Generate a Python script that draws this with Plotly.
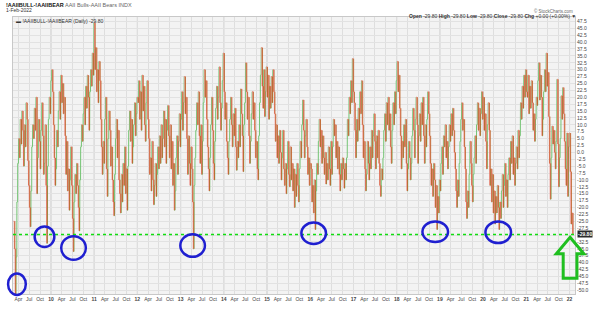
import pandas as pd
import plotly.graph_objects as go

# ---------------- data: AAII bull-bear spread, weekly ----------------
vals_2009 = [-25, -35, -51.4, -38, -18, -4, 5, -2, 12, 3, 15, 8, -5, 10, 2, 18, 12, -3, -12, -20,
             -27, -14, 2, 10, 5, 16, 8, 20, -15, -2, 12, 4, -6, 8, 18, 6, -8, -4, 10, -12,
             -33, -5, 12, 20, 14, 26]
vals_2010 = [30, 22, 10, -2, -12, -6, 8, 2, 15, 22, 12, 28, 18, 25, 14, 20, 6, -8, 4, -14,
             -6, -21, -10, 2, -12, -24, -36, -18, -8, -15, -4, -12, -20, -28.5, -10, 2, 10, 4, 14, 20,
             10, 24, 16, 28, 20, 8, 22, 30, 24, 36, 28, 47]
vals_2011 = [30, 38, 22, 30, 18, 33, 26, 12, 2, -8, 4, -4, 12, 20, -6, -16, 5, 15, 8, -5,
             2, -10, -18, -23, -8, 5, 12, -2, 8, -10, -15, -22, -8, -18, -4, -12, 2, -15, -6, -21,
             -5, 8, 15, 4, 12, -4, 2, 10, 18, 6, 14, 20]
vals_2012 = [18, 26, 12, 22, 8, 28, 15, 24, 10, 4, 18, 26, 12, 5, -8, -2, -14, 4, -10, -19,
             -12, -4, -16, -8, 2, -6, 6, -4, 10, -2, 5, 15, 2, 12, -4, 8, 17, 6, -2, 10,
             -6, 4, -12, -4, -21, -14, -2, 6, -8, 4, 14, 2]
vals_2013 = [12, 22, 8, 18, 27.5, 14, 20, 5, -8, 6, -4, -12, 2, -6, -18, -35, -12, -2, 8, 18,
             10, 22, 6, -4, 10, -8, 4, 18, 30, 20, 26, 12, 2, -6, -14, -2, 10, 20, 8, -4,
             -10, 4, 16, 24, 12, 20, 31, 18, 8, 16, 26, 36]
vals_2014 = [22, 12, 18, 4, -2, -8, 4, 12, 20, 10, 2, 14, 6, 16, 2, -6.5, 4, -2, 10, 2,
             23, 14, 6, -7, 10, 18, 32.5, 22, 12, 20, 6, -4, 4, 14, 22, 12, 18, 8, -2, 4,
             -6, -10, 6, 18, 28, 38, 24, 16, 30, 13, 22, 31]
vals_2015 = [20, 28, 12, 24, 16, 27.5, 18, 30, 22, 14, 4, 10, -2, 6, -4, 8, 0, -10, -2, 8,
             -6, -12, -4, -15, -6, 4, -8, -12.5, 2, -10, -4, -14, -6, -20, -8, -16, -4, -12, -18, -6,
             4, -2, 10, 19, 8, -2, 6, 12, 2, -8, -2, -12, -4]
vals_2016 = [-6, -18, -12, -22, -10, -28, -14, -4, -8, 4, 12, 2, 8, -4, 6, -2, -8, 0, -11.5, -4,
             -10, 2, -6, -12, 4, -8, 2, 12, 6, 10, -2, 4, -6, 2, -8, -14, -4, -10, -2, -6,
             -13, -4, -10, -2, 12, 6, 20, 14, 26, 18, 34, 22]
vals_2017 = [18, 8, -2, 12, 4, 16, 8, 22, 14, 26, 10, -2, 4, -6, -14, -8, 4, -4, -10, 2,
             -6, 8, -2, 6, 14, 4, -6, 6, -2, 8, -4, -12, -16, -6, -10, -2, 8, 14, 4, 18,
             10, 20, 8, 14, 2, -4, 8, 18, 10, 22, 14, 26]
vals_2018 = [33, 22, 28, 16, 6, -6, 4, -2, 10, 2, 12, -4, -14, -6, 4, -2, -10, -4, 6, 16,
             8, -2, 12, 20, 10, -4, 6, 14, 4, 18, 10, 20, 6, -4, 10, 2, 12, 22, 14, 6,
             -4, -12, -6, -16, -4, -10, -20, -12, -28, -16, -22, -10]
vals_2019 = [-14, -4, 2, -8, 6, 2, 10, -2, 4, -6, 2, 10, 4, 14, 6, 16, 8, 0, -6, -14,
             -20, -10, -16, -4, 4, 12, 18, 8, 12, 2, -6, -18, -24, -14, -20, -8, 4, -4, -12, -18,
             -8, -2, 6, -4, 10, 18, 8, 16, 6, 14, 22, 12]
vals_2020 = [20, 8, 14, 4, -6, 10, 18, 8, -12, -6, -18, -8, -22, -14, -26, -16, -22, -12, -20, -28,
             -18, -24, -14, -8, -20, -12, -4, -16, -10, -20, -8, -2, -10, 4, -4, 6, -8, -2, -12, -4,
             2, -6, 8, -2, 6, 18, 12, 24, 16, 28, 20, 30, 22]
vals_2021 = [20, 28, 14, 24, 16, 26, 18, 8, 14, 4, 12, 20, 17, 26, 32.5, 19, 28, 20, 6, 12,
             22, 30, 22, 36, 24, 29, 13, -4, -17, -2, 9.5, 3, 8, 0, -6, 4, 26.5, 3, -12.5, -2,
             5, 20.5, 12, 23.5, 14, 4, -6, -12, 7, -16, 2, 7]
vals_2022 = [-7, -26, -22, -29.8]

spread = (vals_2009 + vals_2010 + vals_2011 + vals_2012 + vals_2013 + vals_2014 + vals_2015 +
          vals_2016 + vals_2017 + vals_2018 + vals_2019 + vals_2020 + vals_2021 + vals_2022)
dates = pd.date_range(end="2022-01-27", periods=len(spread), freq="7D")
last_value = spread[-1]

# tick labels
quarter_starts = pd.date_range("2009-04-01", "2022-01-01", freq="QS")
month_names = {1: None, 4: "Apr", 7: "Jul", 10: "Oct"}
tick_text = [("<b>%02d</b>" % (d.year % 100)) if d.month == 1 else month_names[d.month]
             for d in quarter_starts]
year_starts = pd.date_range("2010-01-01", "2022-01-01", freq="YS")
y_ticks = [-50 + 2.5 * k for k in range(40)]
y_tick_text = ["" if abs(v - last_value) < 1.5 else "%.1f" % v for v in y_ticks]

# ---------------- build segments ----------------
one_day = pd.Timedelta(days=1)
up_x, up_y, dn_x, dn_y, bar_x, bar_y = [], [], [], [], [], []
for i in range(1, len(spread)):
    x0, x1 = dates[i - 1], dates[i]
    y0, y1 = spread[i - 1], spread[i]
    seg_x = [x0, x1 - one_day, x1, None]
    seg_y = [y0, y0, y1, None]
    if y1 >= y0:
        up_x += seg_x; up_y += seg_y
    else:
        dn_x += seg_x; dn_y += seg_y
        bx = x1 + pd.Timedelta(days=4)
        bar_x += [bx, bx, None]; bar_y += [y0, y1, None]

fig = go.Figure()
fig.add_trace(go.Scatter(x=up_x, y=up_y, mode="lines", line=dict(color="#74c474", width=1),
                         hoverinfo="skip", showlegend=False))
fig.add_trace(go.Scatter(x=dn_x, y=dn_y, mode="lines", line=dict(color="#f27f7a", width=1),
                         hoverinfo="skip", showlegend=False))
fig.add_trace(go.Scatter(x=bar_x, y=bar_y, mode="lines", opacity=0.85,
                         line=dict(color="#b85a18", width=0.9),
                         hoverinfo="skip", showlegend=False))

# ---------------- layout ----------------
W, H = 601, 314
L, R, T, B = 12, 18, 17, 14
PW, PH = W - L - R, H - T - B

def px_x(p):
    return (p - L) / PW

def px_y(p):
    return (H - B - p) / PH

shapes = []
for ys in year_starts:
    shapes.append(dict(type="line", xref="x", yref="paper", x0=ys, x1=ys, y0=0, y1=1,
                       line=dict(color="#c8c8c8", width=1), layer="below"))
# current-value dotted line
shapes.append(dict(type="line", xref="paper", yref="y", x0=0, x1=1, y0=last_value, y1=last_value,
                   line=dict(color="#11dd11", width=1.6, dash="dot")))

# hand-drawn highlight ellipses (reference pixel boxes)
ellipses = [(7, 279, 25, 301), (34, 231, 54, 252), (61, 241, 86, 265), (182, 239, 207, 262),
            (305, 227, 330, 249), (428, 226, 454, 247), (492, 226, 518, 248)]
for (a, b, c, d) in ellipses:
    shapes.append(dict(type="circle", xref="paper", yref="paper",
                       x0=px_x(a), x1=px_x(c), y0=px_y(d), y1=px_y(b),
                       line=dict(color="#1f1fd0", width=2.5)))

# green outline arrow
arrow_pts = [(578, 242), (592, 259), (585, 259), (585, 284), (571, 284), (571, 259), (564, 259)]
path = "M " + " L ".join("%.4f,%.4f" % (px_x(a), px_y(b)) for a, b in arrow_pts) + " Z"
shapes.append(dict(type="path", xref="paper", yref="paper", path=path,
                   line=dict(color="#1fbf1f", width=3)))

annotations = [
    dict(xref="paper", yref="paper", x=px_x(3), y=px_y(4.5), xanchor="left", yanchor="middle",
         showarrow=False, font=dict(size=5.5, color="#111"),
         text="<b>!AAIIBULL-!AAIIBEAR</b> <span style='color:#666'>AAII Bulls-AAII Bears INDX</span>"),
    dict(xref="paper", yref="paper", x=px_x(3), y=px_y(10), xanchor="left", yanchor="middle",
         showarrow=False, font=dict(size=5, color="#333"), text="1-Feb-2022"),
    dict(xref="paper", yref="paper", x=px_x(583), y=px_y(10.5), xanchor="right", yanchor="middle",
         showarrow=False, font=dict(size=4.5, color="#666"), text="© StockCharts.com"),
    dict(xref="paper", yref="paper", x=px_x(586), y=px_y(15.5), xanchor="right", yanchor="middle",
         showarrow=False, font=dict(size=5, color="#333"),
         text="<b>Open</b> -29.80 <b>High</b> -29.80 <b>Low</b> -29.80 <b>Close</b> -29.80 "
              "<b>Chg</b> +0.00 (+0.00%) ▼"),
    dict(xref="paper", yref="paper", x=px_x(13), y=px_y(21), xanchor="left", yanchor="middle",
         showarrow=False, font=dict(size=5, color="#333"),
         text="▬ !AAIIBULL-!AAIIBEAR (Daily) -29.80"),
    dict(xref="paper", yref="y", x=1, y=last_value, xanchor="left", yanchor="middle", xshift=2,
         showarrow=False, font=dict(size=5, color="#ffffff"), bgcolor="#2a2a2a",
         borderpad=0, text="<b>%.2f</b>" % last_value),
]

fig.update_layout(
    width=W, height=H,
    margin=dict(l=L, r=R, t=T, b=B),
    paper_bgcolor="#ffffff", plot_bgcolor="#f3f3f3",
    font=dict(family="Arial, Liberation Sans, sans-serif", size=5, color="#444"),
    shapes=shapes, annotations=annotations, showlegend=False,
    xaxis=dict(type="date", range=["2009-02-14", "2022-02-16"], tickmode="array",
               tickvals=list(quarter_starts), ticktext=tick_text, tickangle=0,
               tickfont=dict(size=5, color="#444"), showgrid=True, gridcolor="#dedede", gridwidth=1,
               showline=True, linecolor="#c8c8c8", mirror=True, ticks="", zeroline=False,
               fixedrange=True),
    yaxis=dict(side="right", range=[-51.4, 49.1], tickmode="array", tickvals=y_ticks,
               ticktext=y_tick_text,
               tickfont=dict(size=5, color="#444"), showgrid=True, gridcolor="#e2e2e2",
               showline=True, linecolor="#c8c8c8", mirror=True, ticks="", zeroline=False,
               fixedrange=True),
)

fig.write_html("out.html")
